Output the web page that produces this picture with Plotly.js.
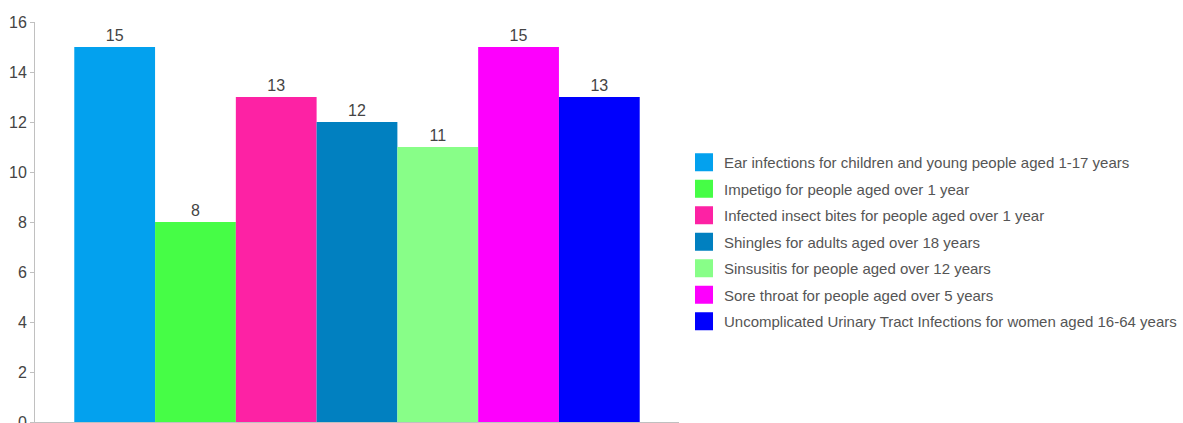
<!DOCTYPE html>
<html>
<head>
<meta charset="utf-8">
<script src="https://cdn.plot.ly/plotly-3.0.1.min.js"></script>
<style>html,body{margin:0;padding:0;background:#fff;}#chart{width:1183px;height:423px;}</style>
</head>
<body>
<div id="chart"></div>
<script>
const seriesNames = [
  "Ear infections for children and young people aged 1-17 years",
  "Impetigo for people aged over 1 year",
  "Infected insect bites for people aged over 1 year",
  "Shingles for adults aged over 18 years",
  "Sinsusitis for people aged over 12 years",
  "Sore throat for people aged over 5 years",
  "Uncomplicated Urinary Tract Infections for women aged 16-64 years"
];
const seriesValues = [15, 8, 13, 12, 11, 15, 13];
const seriesColors = ["#03a1ee", "#46fd46", "#fd22a4", "#0180c0", "#88fe88", "#fd00fd", "#0000fd"];
const category = ["Conditions"];

const traces = [];
seriesNames.forEach((name, i) => {
  traces.push({
    type: "bar",
    x: category,
    y: [seriesValues[i]],
    name: name,
    marker: {color: seriesColors[i]},
    text: [String(seriesValues[i])],
    textposition: "outside",
    textfont: {family: "Liberation Sans, Arial, sans-serif", size: 16, color: "#444"},
    cliponaxis: false,
    showlegend: false,
    hoverinfo: "y+name"
  });
});
seriesNames.forEach((name, i) => {
  traces.push({
    type: "scatter",
    mode: "markers",
    x: [null],
    y: [null],
    name: name,
    legendgroup: "g" + i,
    marker: {symbol: "square", size: 16, color: seriesColors[i], line: {width: 2, color: seriesColors[i]}},
    showlegend: true,
    hoverinfo: "skip"
  });
});

const layout = {
  width: 1183,
  height: 423,
  margin: {l: 35, r: 504, t: 22, b: 1, pad: 0},
  paper_bgcolor: "#fff",
  plot_bgcolor: "#fff",
  barmode: "group",
  bargap: 0.122,
  bargroupgap: 0,
  showlegend: true,
  font: {family: "Liberation Sans, Arial, sans-serif", color: "#444"},
  xaxis: {
    type: "category",
    showticklabels: false,
    ticks: "",
    showgrid: false,
    zeroline: false,
    showline: true,
    linecolor: "#c0c0c0",
    linewidth: 1,
    range: [-0.5, 0.5],
    fixedrange: true
  },
  yaxis: {
    range: [0, 16],
    dtick: 2,
    tick0: 0,
    showgrid: false,
    zeroline: false,
    showline: true,
    linecolor: "#c0c0c0",
    linewidth: 1,
    ticks: "outside",
    ticklen: 4,
    tickcolor: "#c0c0c0",
    ticklabeloverflow: "allow",
    tickfont: {family: "Liberation Sans, Arial, sans-serif", size: 16, color: "#444"},
    fixedrange: true
  },
  legend: {
    xref: "container",
    x: 0.5782,
    xanchor: "left",
    yref: "paper",
    y: 0.45,
    yanchor: "middle",
    traceorder: "grouped",
    tracegroupgap: 4,
    font: {family: "Liberation Sans, Arial, sans-serif", size: 15, color: "#555"},
    bgcolor: "rgba(0,0,0,0)",
    borderwidth: 0
  }
};

Plotly.newPlot("chart", traces, layout, {displayModeBar: false, staticPlot: true});
</script>
</body>
</html>
